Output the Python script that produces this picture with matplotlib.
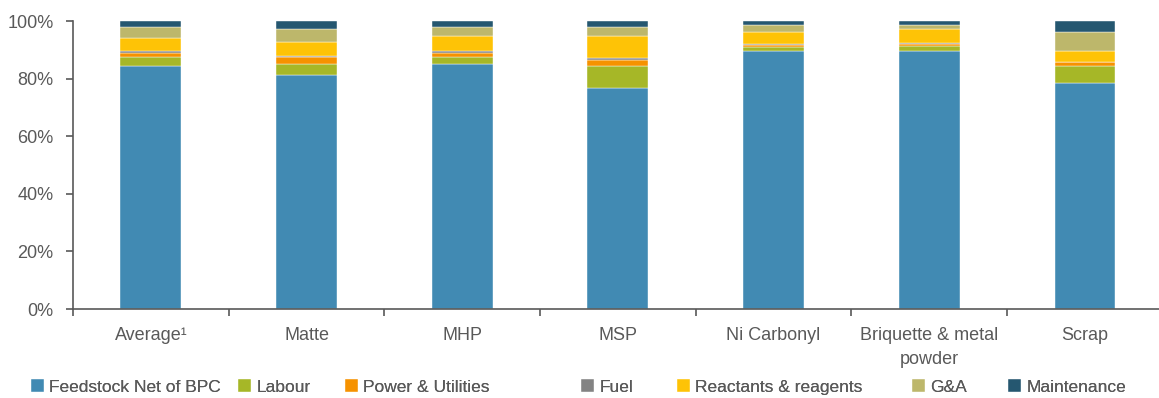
import matplotlib
matplotlib.use("Agg")
import matplotlib.pyplot as plt
import numpy as np
from matplotlib.ticker import PercentFormatter, FixedLocator

# categories and cost share per segment (percent of total), bottom to top
categories = ["Average\u00b9", "Matte", "MHP", "MSP", "Ni Carbonyl",
              "Briquette & metal\npowder", "Scrap"]
feedstock = [84.5, 81.4, 85.2, 76.8, 89.6, 89.6, 78.5]
labour = [2.9, 3.8, 2.2, 7.7, 1.5, 1.7, 6.0]
power = [1.5, 2.2, 1.5, 2.1, 0.7, 0.6, 1.4]
fuel = [0.7, 0.6, 0.7, 0.4, 0.3, 0.6, 0.0]
reactants = [4.5, 4.6, 5.2, 7.8, 4.2, 4.6, 3.7]
gna = [3.7, 4.5, 3.0, 3.0, 2.2, 1.4, 6.7]
maintenance = [2.2, 2.9, 2.2, 2.2, 1.5, 1.5, 3.7]

series = [("Feedstock Net of BPC", feedstock, "#418AB3"),
          ("Labour", labour, "#A6B727"),
          ("Power & Utilities", power, "#F69200"),
          ("Fuel", fuel, "#838383"),
          ("Reactants & reagents", reactants, "#FEC306"),
          ("G&A", gna, "#BDB76B"),
          ("Maintenance", maintenance, "#255770")]

plt.rcParams['font.family'] = ['Liberation Sans', 'DejaVu Sans']
txt = "#595959"

fig = plt.figure(figsize=(11.59, 3.98), dpi=100)
ax = fig.add_axes([73/1159, 89/398, (1162.7-73)/1159, 288/398])

x = np.arange(len(categories))
bottom = np.zeros(len(categories))
handles = []
for name, vals, col in series:
    v = np.array(vals) / 100
    b = ax.bar(x, v, width=0.39, bottom=bottom, color=col, label=name,
               edgecolor="white", linewidth=0.3)
    handles.append(b)
    bottom += v

ax.set_xlim(-0.5, len(categories) - 0.5)
ax.set_ylim(0, 1)
ax.yaxis.set_major_locator(FixedLocator(np.arange(0, 1.01, 0.2)))
ax.yaxis.set_major_formatter(PercentFormatter(1.0, decimals=0))

ax.set_xticks(x)
ax.set_xticklabels(categories, linespacing=1.5)
ax.set_xticks(np.arange(-0.5, len(categories), 1), minor=True)
ax.tick_params(axis='x', which='major', length=0, pad=13, labelsize=13, labelcolor=txt)
ax.tick_params(axis='x', which='minor', length=5, width=1.2, color=txt, direction='out')
ax.tick_params(axis='y', length=5, width=1.2, color=txt, labelsize=13, labelcolor=txt, pad=9)

for s in ['top', 'right']:
    ax.spines[s].set_visible(False)
for s in ['left', 'bottom']:
    ax.spines[s].set_color(txt)
    ax.spines[s].set_linewidth(1.2)

# legend entries placed one by one, as in the reference
leg_x = [31, 238, 345, 581, 677, 912, 1008]
for h, (name, _, _), lx in zip(handles, series, leg_x):
    leg = fig.legend(handles=[h], labels=[name], loc='center left',
                     bbox_to_anchor=(lx/1159, 11/398), frameon=False, fontsize=12.5,
                     handlelength=0.75, handleheight=0.75, handletextpad=0.3,
                     borderpad=0, borderaxespad=0)
    for t in leg.get_texts():
        t.set_color(txt)
    fig.add_artist(leg)

fig.savefig("out.png", dpi=100)
